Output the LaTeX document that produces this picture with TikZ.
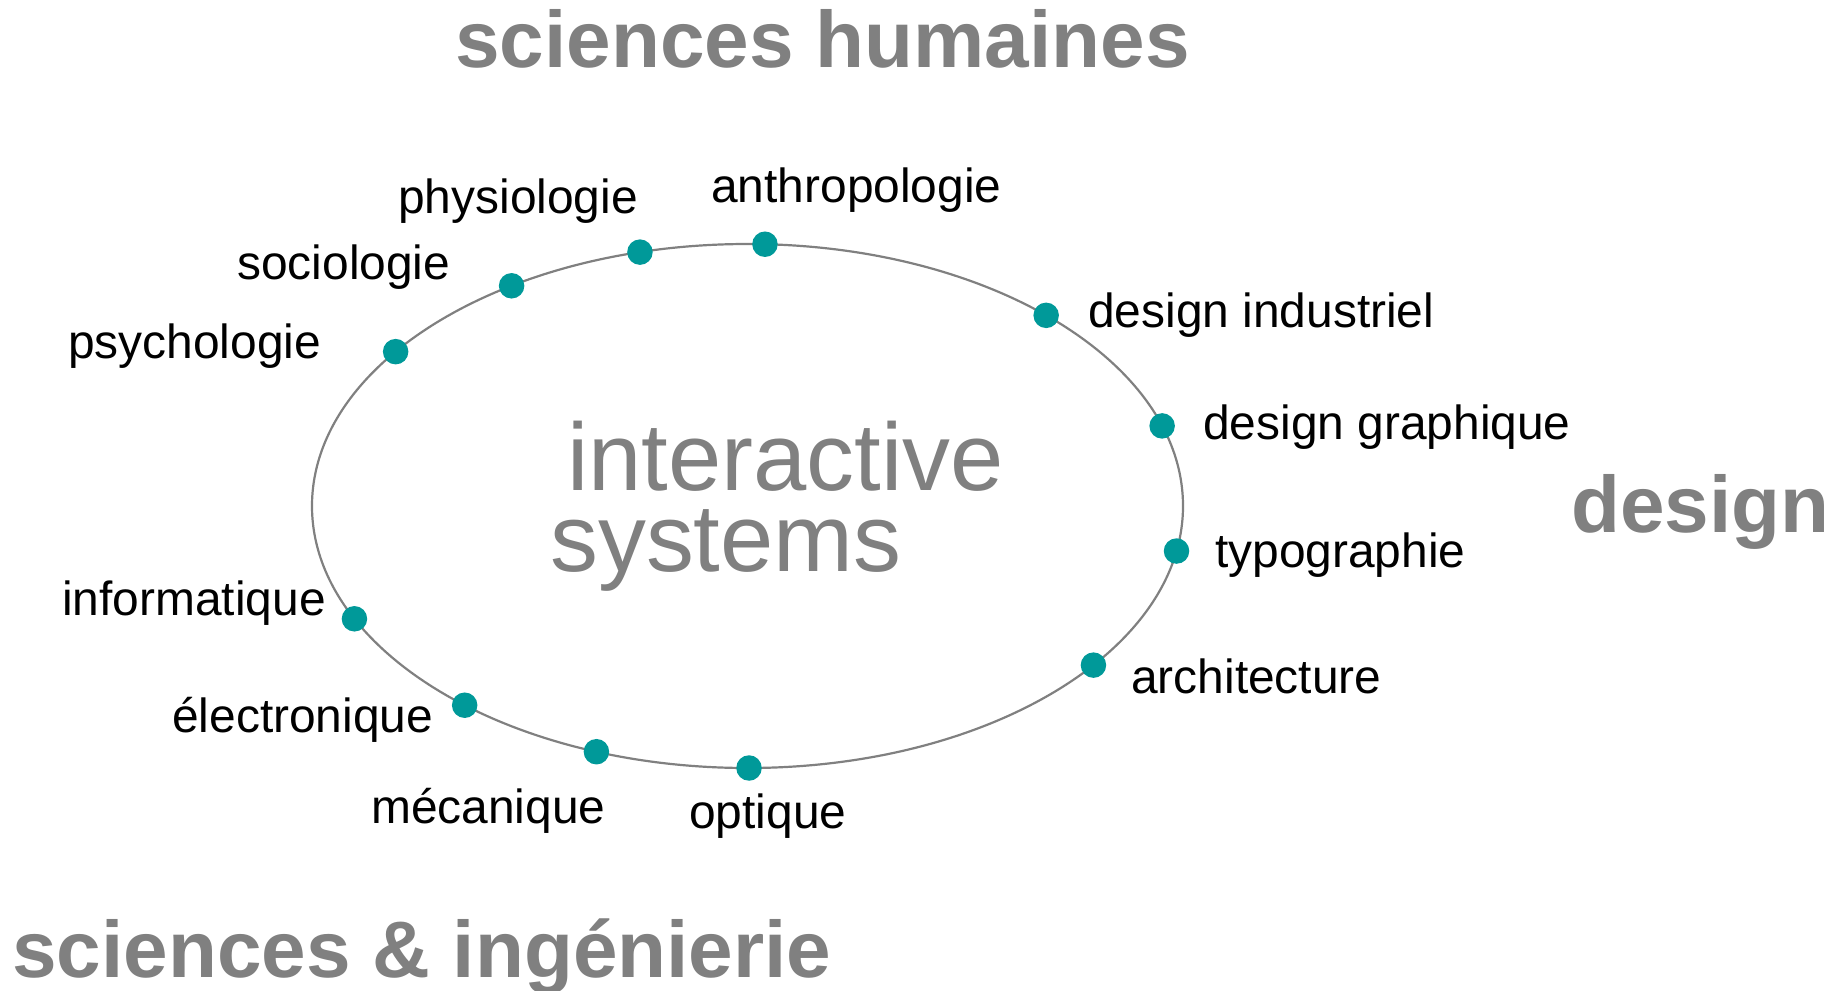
\documentclass[tikz,border=0pt]{standalone}
\usepackage{fontspec}
\setmainfont{Liberation Sans}
\usetikzlibrary{calc}
\definecolor{dotteal}{RGB}{0,153,153}
\definecolor{titlegray}{RGB}{128,128,128}
\tikzset{
    fielddot/.style={circle,fill=dotteal,inner sep=0pt,minimum size=25.5pt},
    fieldlabel/.style={anchor=base west,inner sep=0pt,font=\fontsize{47.9}{57}\selectfont},
    areatitle/.style={anchor=base west,inner sep=0pt,text=titlegray,font=\bfseries\fontsize{80.1}{95}\selectfont},
    coretext/.style={anchor=base west,inner sep=0pt,text=titlegray,font=\fontsize{95.8}{113}\selectfont}
}
\begin{document}
\begin{tikzpicture}[x=1pt,y=-1pt]
\useasboundingbox (0,0) rectangle (1846,990);

% ring
\coordinate (ctr) at (747.5,506);
\draw[line width=2.2pt,draw=titlegray] (ctr) ellipse [x radius=435.5pt,y radius=262pt];

% centre text
\node[coretext] (inter) at (567,490) {interactive};
\node[coretext] (sys) at (550,571) {systems};

% disciplines on the ring
\node[fielddot] (psy) at ($(ctr)+(143.9:435.5pt and 262pt)$) {};
\node[fielddot] (soc) at ($(ctr)+(122.8:435.5pt and 262pt)$) {};
\node[fielddot] (phys) at ($(ctr)+(104.3:435.5pt and 262pt)$) {};
\node[fielddot] (anthro) at ($(ctr)+(87.7:435.5pt and 262pt)$) {};
\node[fielddot] (desind) at ($(ctr)+(46.7:435.5pt and 262pt)$) {};
\node[fielddot] (desgra) at ($(ctr)+(17.8:435.5pt and 262pt)$) {};
\node[fielddot] (typo) at ($(ctr)+(-9.9:435.5pt and 262pt)$) {};
\node[fielddot] (archi) at ($(ctr)+(-37.4:435.5pt and 262pt)$) {};
\node[fielddot] (opt) at ($(ctr)+(-89.8:435.5pt and 262pt)$) {};
\node[fielddot] (meca) at ($(ctr)+(-110.3:435.5pt and 262pt)$) {};
\node[fielddot] (elec) at ($(ctr)+(-130.5:435.5pt and 262pt)$) {};
\node[fielddot] (info) at ($(ctr)+(-154.5:435.5pt and 262pt)$) {};

% labels
\node[fieldlabel] (psyl) at (68,358) {psychologie};
\node[fieldlabel] (socl) at (237,279) {sociologie};
\node[fieldlabel] (physl) at (398,213) {physiologie};
\node[fieldlabel] (anthrol) at (711,202) {anthropologie};
\node[fieldlabel] (desindl) at (1088,327) {design industriel};
\node[fieldlabel] (desgral) at (1203,439) {design graphique};
\node[fieldlabel] (typol) at (1215,567) {typographie};
\node[fieldlabel] (archil) at (1131,693) {architecture};
\node[fieldlabel] (optl) at (689,828) {optique};
\node[fieldlabel] (mecal) at (371,823) {mécanique};
\node[fieldlabel] (elecl) at (172,732) {électronique};
\node[fieldlabel] (infol) at (62,615) {informatique};

% areas
\node[areatitle] (human) at (455,67) {sciences humaines};
\node[areatitle] (design) at (1571,532) {design};
\node[areatitle] (engin) at (12,977) {sciences \& ingénierie};
\end{tikzpicture}
\end{document}
